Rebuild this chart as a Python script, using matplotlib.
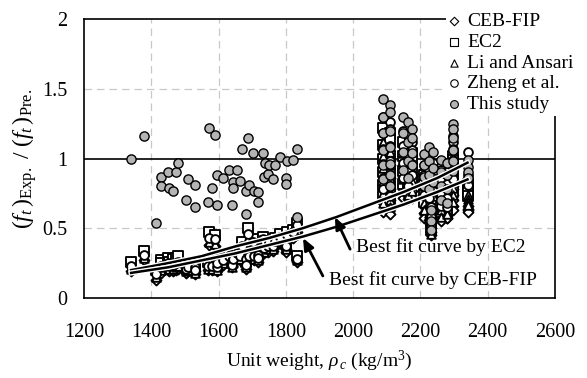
import matplotlib
matplotlib.use("Agg")
import matplotlib.pyplot as plt
import matplotlib.patheffects as pe
import numpy as np

plt.rcParams['font.family'] = ['Liberation Serif', 'DejaVu Serif']
plt.rcParams['mathtext.fontset'] = 'custom'
plt.rcParams['mathtext.rm'] = 'Liberation Serif'
plt.rcParams['mathtext.it'] = 'Liberation Serif:italic'

# -------- data: unit weight (kg/m3) and ratio of test / predicted tensile strength --------
rho = [1340, 1378, 1414, 1428, 1428, 1450, 1452, 1466, 1472, 1478,
       1502, 1510, 1530, 1530, 1569, 1572, 1581, 1589, 1594, 1596,
       1612, 1632, 1640, 1644, 1644, 1656, 1664, 1669, 1681, 1681,
       1688, 1691, 1703, 1705, 1718, 1718, 1731, 1736, 1738, 1748,
       1751, 1763, 1768, 1783, 1800, 1800, 1804, 1822, 1832, 1834,
       2088, 2088, 2088, 2088, 2088, 2088, 2110, 2110, 2110, 2110, 2110, 2110, 2110,
       2148, 2148, 2148, 2148, 2162, 2162, 2162, 2162, 2176, 2176, 2176, 2176,
       2212, 2212, 2212, 2212, 2225, 2225, 2225, 2225, 2230, 2230, 2230, 2238, 2238, 2238,
       2262, 2262, 2262, 2262, 2280, 2280, 2280, 2280,
       2296, 2296, 2296, 2296, 2296, 2296,
       2340, 2340, 2340, 2340]

this_study = [1.00, 1.16, 0.54, 0.87, 0.80, 0.90, 0.79, 0.77, 0.90, 0.97,
              0.70, 0.85, 0.81, 0.65, 0.69, 1.22, 0.79, 1.17, 0.67, 0.88,
              0.86, 0.92, 0.67, 0.83, 0.79, 0.92, 0.84, 1.07, 0.77, 0.60,
              1.15, 0.81, 1.04, 0.77, 0.76, 0.69, 1.04, 0.87, 0.97, 0.89,
              0.95, 0.85, 0.95, 1.01, 0.86, 0.82, 0.98, 0.99, 1.07, 0.58,
              1.43, 1.30, 1.18, 1.06, 0.95, 0.85, 1.38, 1.33, 1.20, 1.08, 0.96, 0.88, 0.80,
              1.30, 1.18, 1.05, 0.92, 1.26, 1.12, 0.98, 0.86, 1.21, 1.15, 1.04, 0.95,
              1.03, 0.95, 0.87, 0.80, 1.08, 0.98, 0.88, 0.78, 0.63, 0.55, 0.49, 1.05, 0.93, 0.83,
              0.99, 0.90, 0.80, 0.70, 0.97, 0.88, 0.78, 0.68,
              1.25, 1.21, 1.15, 1.06, 0.98, 0.91,
              0.99, 0.94, 0.90, 0.86]

ceb_fip = [0.19, 0.27, 0.13, 0.19, 0.18, 0.20, 0.19, 0.19, 0.20, 0.21,
           0.18, 0.19, 0.19, 0.17, 0.20, 0.38, 0.20, 0.37, 0.19, 0.22,
           0.24, 0.27, 0.22, 0.26, 0.25, 0.29, 0.27, 0.33, 0.25, 0.21,
           0.40, 0.27, 0.36, 0.27, 0.28, 0.26, 0.38, 0.32, 0.36, 0.33,
           0.36, 0.34, 0.37, 0.40, 0.35, 0.33, 0.41, 0.43, 0.47, 0.26,
           1.02, 0.93, 0.85, 0.76, 0.68, 0.62, 0.99, 0.95, 0.86, 0.78, 0.70, 0.64, 0.60,
           0.95, 0.87, 0.78, 0.72, 0.92, 0.83, 0.73, 0.71, 0.88, 0.84, 0.77, 0.72,
           0.72, 0.66, 0.61, 0.57, 0.75, 0.69, 0.62, 0.56, 0.50, 0.47, 0.45, 0.74, 0.66, 0.60,
           0.68, 0.62, 0.58, 0.55, 0.66, 0.60, 0.57, 0.57,
           0.80, 0.78, 0.74, 0.70, 0.66, 0.63,
           0.66, 0.64, 0.63, 0.62]

ec2 = [0.26, 0.34, 0.20, 0.27, 0.25, 0.29, 0.26, 0.28, 0.29, 0.30,
       0.23, 0.25, 0.24, 0.22, 0.26, 0.47, 0.25, 0.45, 0.24, 0.27,
       0.29, 0.31, 0.26, 0.30, 0.29, 0.34, 0.32, 0.40, 0.30, 0.26,
       0.50, 0.33, 0.42, 0.32, 0.33, 0.31, 0.44, 0.38, 0.41, 0.39,
       0.41, 0.39, 0.43, 0.46, 0.41, 0.39, 0.47, 0.49, 0.54, 0.30,
       1.22, 1.10, 1.00, 0.90, 0.81, 0.73, 1.18, 1.13, 1.02, 0.92, 0.83, 0.76, 0.70,
       1.12, 1.02, 0.91, 0.82, 1.08, 0.97, 0.85, 0.78, 1.04, 0.99, 0.90, 0.83,
       0.88, 0.81, 0.75, 0.69, 0.92, 0.84, 0.76, 0.67, 0.60, 0.55, 0.49, 0.90, 0.80, 0.71,
       0.84, 0.77, 0.69, 0.62, 0.82, 0.75, 0.67, 0.62,
       1.02, 0.99, 0.94, 0.88, 0.82, 0.76,
       0.82, 0.79, 0.76, 0.73]

li_ansari = [0.21, 0.29, 0.15, 0.21, 0.20, 0.22, 0.21, 0.21, 0.22, 0.23,
             0.19, 0.20, 0.20, 0.18, 0.21, 0.40, 0.21, 0.39, 0.20, 0.23,
             0.25, 0.28, 0.22, 0.27, 0.26, 0.30, 0.28, 0.35, 0.26, 0.22,
             0.43, 0.28, 0.37, 0.28, 0.29, 0.27, 0.39, 0.33, 0.37, 0.35,
             0.37, 0.35, 0.39, 0.42, 0.37, 0.35, 0.43, 0.45, 0.49, 0.27,
             1.12, 1.02, 0.93, 0.84, 0.75, 0.68, 1.09, 1.05, 0.95, 0.86, 0.77, 0.70, 0.65,
             1.04, 0.95, 0.85, 0.77, 1.00, 0.90, 0.79, 0.74, 0.97, 0.92, 0.84, 0.77,
             0.80, 0.74, 0.68, 0.63, 0.84, 0.77, 0.69, 0.61, 0.55, 0.50, 0.46, 0.82, 0.73, 0.65,
             0.76, 0.70, 0.63, 0.58, 0.75, 0.68, 0.62, 0.60,
             0.92, 0.89, 0.85, 0.79, 0.74, 0.69,
             0.74, 0.71, 0.69, 0.67]

zheng = [0.23, 0.31, 0.17, 0.23, 0.22, 0.25, 0.23, 0.24, 0.25, 0.26,
         0.21, 0.22, 0.22, 0.20, 0.23, 0.43, 0.23, 0.42, 0.22, 0.25,
         0.27, 0.30, 0.24, 0.29, 0.28, 0.32, 0.30, 0.37, 0.28, 0.24,
         0.46, 0.30, 0.40, 0.30, 0.31, 0.29, 0.42, 0.36, 0.40, 0.37,
         0.40, 0.37, 0.41, 0.44, 0.39, 0.37, 0.45, 0.47, 0.52, 0.28,
         1.30, 1.18, 1.07, 0.96, 0.86, 0.78, 1.26, 1.21, 1.09, 0.98, 0.88, 0.80, 0.73,
         1.20, 1.09, 0.97, 0.86, 1.16, 1.03, 0.90, 0.80, 1.12, 1.06, 0.96, 0.88,
         0.95, 0.88, 0.81, 0.74, 1.00, 0.91, 0.82, 0.72, 0.65, 0.58, 0.52, 0.97, 0.86, 0.77,
         0.92, 0.84, 0.74, 0.66, 0.90, 0.82, 0.72, 0.65,
         1.16, 1.12, 1.07, 0.99, 0.91, 0.85,
         1.05, 0.88, 0.85, 0.81]

# best fit curves
fit_rho = [1340, 1450, 1550, 1650, 1750, 1850, 1950, 2050, 2150, 2250, 2340]
fit_ceb = [0.18, 0.22, 0.27, 0.32, 0.38, 0.44, 0.51, 0.59, 0.67, 0.76, 0.85]
fit_ec2 = [0.20, 0.25, 0.30, 0.37, 0.43, 0.50, 0.58, 0.67, 0.76, 0.86, 0.97]

# -------- plot --------
fig = plt.figure(figsize=(5.87, 3.78), dpi=100)
ax = fig.add_axes([84/587, 1-298/378, (555-84)/587, (298-19)/378])

ax.set_xlim(1200, 2600)
ax.set_ylim(0, 2)
ax.set_xticks(np.arange(1200, 2601, 200))
ax.set_yticks([0, 0.5, 1, 1.5, 2])
ax.set_yticklabels(['0', '0.5', '1', '1.5', '2'])
ax.tick_params(length=0, labelsize=14.5)
ax.tick_params(axis='x', pad=18)
ax.tick_params(axis='y', pad=12)
for s in ax.spines.values():
    s.set_linewidth(1.2)

for xv in range(1400, 2401, 200):
    ax.axvline(xv, color='#c8c8c8', lw=0.9, ls=(0, (6, 4)), zorder=0)
for yv in [0.5, 1.5]:
    ax.axhline(yv, color='#c8c8c8', lw=0.9, ls=(0, (6, 4)), zorder=0)
ax.axhline(1, color='black', lw=1.2, zorder=1)

mk = dict(facecolors='white', edgecolors='black', linewidths=1.35, zorder=2)
ax.scatter(rho, ceb_fip, marker='D', s=26, label='CEB-FIP', **mk)
ax.scatter(rho, ec2, marker='s', s=44, label='EC2', **mk)
ax.scatter(rho, li_ansari, marker='^', s=38, label='Li and Ansari', **mk)
ax.scatter(rho, zheng, marker='o', s=40, label='Zheng et al.', **mk)
ax.scatter(rho, this_study, marker='o', s=44, facecolors='#b4b4b4',
           edgecolors='black', linewidths=1.0, zorder=3, label='This study')

halo = [pe.withStroke(linewidth=3.8, foreground='white')]
ax.plot(fit_rho, fit_ec2, color='black', lw=1.8, zorder=4, path_effects=halo)
ax.plot(fit_rho, fit_ceb, color='black', lw=1.8, zorder=4, path_effects=halo)

arrow = dict(arrowstyle='-|>,head_width=0.3,head_length=0.7', color='black',
             lw=2, shrinkA=0, shrinkB=0)
ax.text(2008, 0.366, 'Best fit curve by EC2', fontsize=14, va='center', ha='left', zorder=5)
ax.annotate('', xy=(1946, 0.58), xytext=(1991, 0.35), arrowprops=arrow, zorder=5)
ax.text(1928, 0.13, 'Best fit curve by CEB-FIP', fontsize=14, va='center', ha='left', zorder=5)
ax.annotate('', xy=(1851, 0.43), xytext=(1910, 0.158), arrowprops=arrow, zorder=5)

ax.set_xlabel(r'Unit weight, $\rho_{\,c}$ (kg/m$^3$)', fontsize=14, labelpad=5)
ax.set_ylabel(r'$(f_t\,)_{\rm Exp.}$ / $(f_t\,)_{\rm Pre.}$', fontsize=17, labelpad=2)

leg = ax.legend(loc='upper left', bbox_to_anchor=(436/587, 1),
                bbox_transform=fig.transFigure, fontsize=14, frameon=True,
                facecolor='white', edgecolor='none', framealpha=1,
                handlelength=0.6, handletextpad=0.35, labelspacing=0.16,
                borderpad=0.15, markerscale=0.85, fancybox=False)
for h in leg.legend_handles:
    h.set_linewidth(0.8)
leg.set_zorder(6)

fig.savefig('out.png', dpi=100)
